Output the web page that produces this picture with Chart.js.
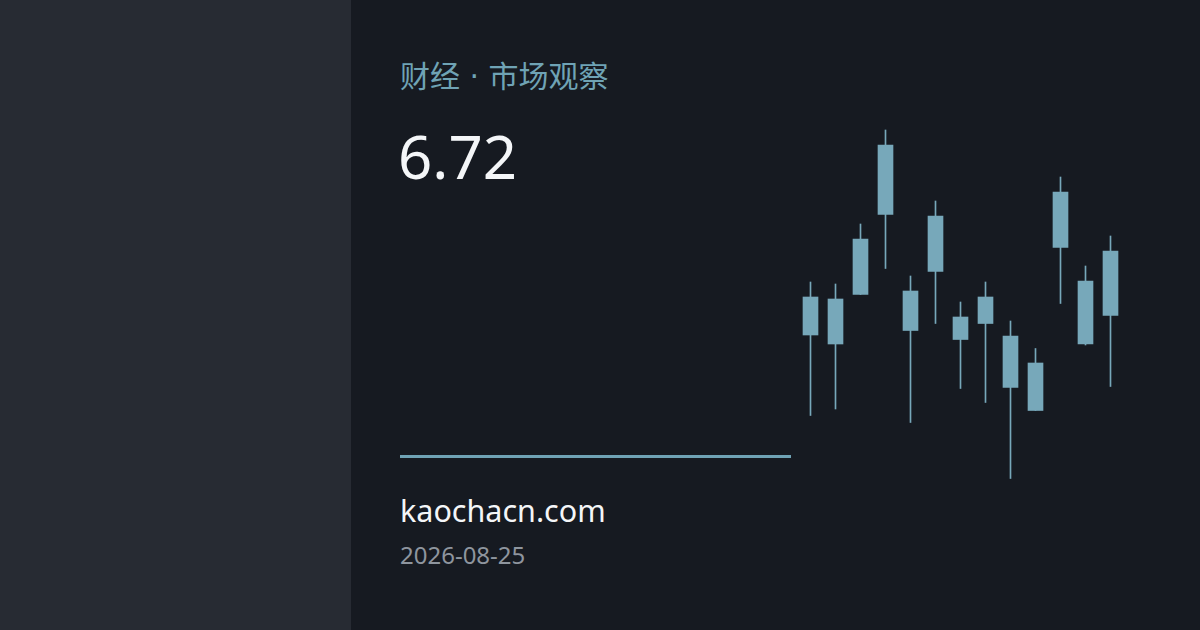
<!DOCTYPE html>
<html>
<head>
<meta charset="utf-8">
<script src="https://cdn.jsdelivr.net/npm/chart.js@4"></script>
<style>
    html, body { margin: 0; padding: 0; }
    body {
        width: 1200px; height: 630px; overflow: hidden; position: relative;
        background: #161a21;
        font-family: "Noto Sans", "Noto Sans CJK SC", sans-serif;
    }
    .side { position: absolute; left: 0; top: 0; width: 351px; height: 630px; background: #272b33; }
    .kicker { position: absolute; left: 400px; top: 59px; font-size: 30px; line-height: 30px; color: #6fa3b5; font-family: "DejaVu Sans", "Noto Sans CJK SC", sans-serif; }
    .kicker .cjk { font-family: "Noto Sans CJK SC", sans-serif; }
    .value { position: absolute; left: 398px; top: 120px; font-size: 60px; color: #f4f6f8; line-height: 1.2; }
    .rule { position: absolute; left: 400px; top: 455px; width: 391px; height: 3px; background: #6fa3b5; }
    .site { position: absolute; left: 400px; top: 489px; font-size: 30.5px; color: #f4f6f8; }
    .date { position: absolute; left: 400px; top: 538px; font-size: 24px; color: #8e959e; }
    .chart-box { position: absolute; left: 798px; top: 100px; width: 325px; height: 400px; }
</style>
</head>
<body>
<div class="side"></div>
<div class="kicker"><span class="cjk">财经</span> · <span class="cjk">市场观察</span></div>
<div class="value">6.72</div>
<div class="rule"></div>
<div class="site">kaochacn.com</div>
<div class="date">2026-08-25</div>
<div class="chart-box"><canvas id="candleChart" width="325" height="400"></canvas></div>

<script>
// candle values (same colour for up and down, so open/close order is a guess)
const labels = ['1', '2', '3', '4', '5', '6', '7', '8', '9', '10', '11', '12', '13'];
const openValues  = [5.04, 5.76, 5.85, 7.45, 5.92, 6.31, 5.40, 5.27, 5.02, 4.48, 6.79, 4.86, 5.43];
const closeValues = [5.80, 4.86, 6.96, 8.84, 5.13, 7.42, 4.95, 5.80, 3.99, 3.53, 7.90, 6.12, 6.72];
const highValues  = [6.10, 6.06, 7.26, 9.14, 6.22, 7.72, 5.70, 6.10, 5.32, 4.77, 8.20, 6.42, 7.02];
const lowValues   = [3.43, 3.56, 5.85, 6.37, 3.29, 5.27, 3.97, 3.69, 2.17, 3.53, 5.67, 4.84, 4.01];

const candleColor = '#77a8ba';

document.addEventListener('DOMContentLoaded', function () {
    const bodies = labels.map((_, i) => [openValues[i], closeValues[i]]);
    const wicks = labels.map((_, i) => [lowValues[i], highValues[i]]);

    const ctx = document.getElementById('candleChart').getContext('2d');
    new Chart(ctx, {
        type: 'bar',
        data: {
            labels: labels,
            datasets: [{
                label: 'wick',
                data: wicks,
                backgroundColor: candleColor,
                barThickness: 1,
                grouped: false,
                order: 2
            },
            {
                label: 'body',
                data: bodies,
                backgroundColor: candleColor,
                barThickness: 15,
                grouped: false,
                order: 1
            }]
        },
        options: {
            responsive: false,
            animation: false,
            layout: { padding: 0 },
            plugins: {
                legend: { display: false },
                tooltip: { enabled: false }
            },
            scales: {
                x: { display: false, offset: true },
                y: { display: false, min: 1.74, max: 9.74 }
            }
        }
    });
});
</script>
</body>
</html>
